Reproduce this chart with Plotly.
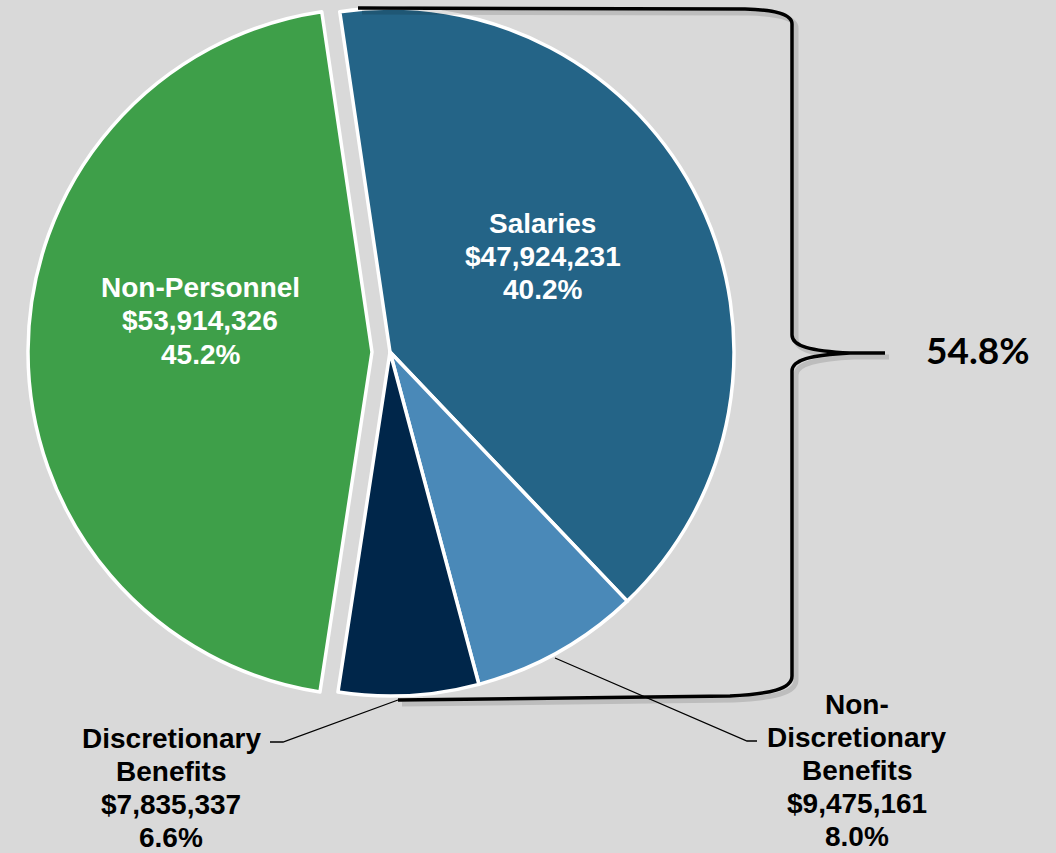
import plotly.graph_objects as go

# ---- data ----
labels = ["Salaries", "Non-Discretionary Benefits", "Discretionary Benefits", "Non-Personnel"]
label_lines = [["Salaries"], ["Non-", "Discretionary", "Benefits"], ["Discretionary", "Benefits"], ["Non-Personnel"]]
values = [47924231, 9475161, 7835337, 53914326]
colors = ["#246487", "#4a89b8", "#00264a", "#3e9f49"]
personnel_share_label = "54.8%"

W, H = 1056, 853
BG = "#d9d9d9"

def px(x):
    return x / W

def py(y):
    return 1 - y / H

total = sum(values)
pcts = [v / total * 100 for v in values]

R = 344
ROT = -8.4

def domain(cx, cy, r):
    return dict(x=[px(cx - r), px(cx + r)], y=[py(cy + r), py(cy - r)])

fig = go.Figure()

# personnel group (Salaries + benefits), not pulled
fig.add_trace(go.Pie(
    labels=labels, values=values, sort=False, direction="clockwise", rotation=ROT,
    marker=dict(colors=colors[:3] + ["rgba(0,0,0,0)"],
                line=dict(color="white", width=[3.5, 3.5, 3.5, 0])),
    textinfo="none", hoverinfo="skip", domain=domain(390, 352, R), showlegend=False,
))
# Non-Personnel slice, exploded to the left
fig.add_trace(go.Pie(
    labels=labels, values=values, sort=False, direction="clockwise", rotation=ROT,
    marker=dict(colors=["rgba(0,0,0,0)"] * 3 + [colors[3]],
                line=dict(color="white", width=[0, 0, 0, 3.5])),
    textinfo="none", hoverinfo="skip", domain=domain(372, 352, R), showlegend=False,
))

FONT = "Liberation Sans, Arial, sans-serif"
FS = 28

def label_block(i, cx, top_y, color, line=33.4):
    lines = label_lines[i] + [f"${values[i]:,}", f"{pcts[i]:.1f}%"]
    out = []
    for k, t in enumerate(lines):
        out.append(dict(x=px(cx), y=py(top_y + k * line), text=f"<b>{t}</b>",
                        font=dict(color=color, size=FS, family=FONT)))
    return out

ann = []
ann += label_block(0, 542.5, 223, "white")
ann += label_block(3, 200, 287.5, "white")
ann += label_block(2, 171, 738, "black", 33)
ann += label_block(1, 856.5, 704, "black", 33)
ann.append(dict(x=px(978), y=py(350), text=f"<b>{personnel_share_label}</b>",
                font=dict(color="black", size=37, family="Lato, sans-serif")))
for a in ann:
    a.update(xref="paper", yref="paper", showarrow=False, xanchor="center", yanchor="middle", align="center")

shapes = []

def brace(dx=0, dy=0):
    def P(x, y):
        return f"{px(x + dx):.5f},{py(y + dy):.5f}"
    return (f"M {P(358, 8)} L {P(745, 9)} C {P(775, 10)} {P(792, 14)} {P(792, 24)} "
            f"L {P(792, 335)} C {P(792, 346)} {P(810, 351)} {P(850, 353)} L {P(885, 353)} "
            f"M {P(850, 353)} C {P(810, 355)} {P(792, 360)} {P(792, 371)} "
            f"L {P(792, 676)} C {P(792, 689)} {P(770, 694)} {P(730, 696)} L {P(398, 700)}")

shapes.append(dict(type="path", xref="paper", yref="paper", path=brace(4, 4),
                   line=dict(color="rgba(0,0,0,0.13)", width=5)))
shapes.append(dict(type="path", xref="paper", yref="paper", path=brace(),
                   line=dict(color="black", width=3.5)))

# leader lines
def poly(pts):
    return "M " + " L ".join(f"{px(x):.5f},{py(y):.5f}" for x, y in pts)

shapes.append(dict(type="path", xref="paper", yref="paper",
                   path=poly([(398, 700), (283, 742), (270, 742)]),
                   line=dict(color="black", width=1.3)))
shapes.append(dict(type="path", xref="paper", yref="paper",
                   path=poly([(555, 658), (747, 741), (757, 741)]),
                   line=dict(color="black", width=1.3)))

fig.update_layout(
    width=W, height=H, margin=dict(l=0, r=0, t=0, b=0),
    paper_bgcolor=BG, plot_bgcolor=BG, showlegend=False,
    annotations=ann, shapes=shapes,
)

fig.write_html("out.html")
